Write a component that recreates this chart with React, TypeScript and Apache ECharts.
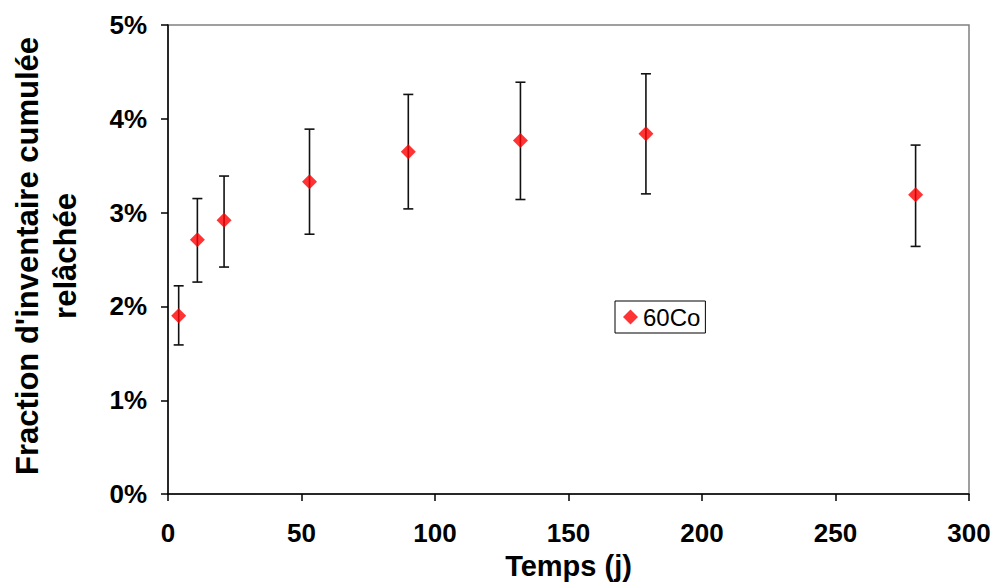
import React, { useEffect, useRef } from "react";
import * as echarts from "echarts";

const times = [4, 11, 21, 53, 90, 132, 179, 280];
const values = [1.9, 2.71, 2.92, 3.33, 3.65, 3.77, 3.84, 3.19];
const lows = [1.59, 2.26, 2.42, 2.77, 3.04, 3.14, 3.2, 2.64];
const highs = [2.22, 3.15, 3.39, 3.89, 4.26, 4.39, 4.48, 3.72];
const seriesName = "60Co";
const xTitle = "Temps (j)";
const yTitleLine1 = "Fraction d'inventaire cumulée";
const yTitleLine2 = "relâchée";

const FONT = "'Liberation Sans', Arial, sans-serif";

export default function App() {
  const ref = useRef<HTMLDivElement>(null);
  useEffect(() => {
    if (!ref.current) return;
    const chart = echarts.init(ref.current, null, { renderer: "svg" });
    const errData = times.map((t, i) => [t, lows[i], highs[i]]);
    chart.setOption({
      animation: false,
      backgroundColor: "#ffffff",
      textStyle: { fontFamily: FONT },
      grid: {
        left: 168,
        right: 26,
        top: 25,
        bottom: 84,
        show: true,
        borderColor: "#808080",
        borderWidth: 1.5,
        backgroundColor: "transparent",
      },
      legend: {
        left: 615,
        top: 301,
        padding: [4, 5, 4, 8],
        borderColor: "#000",
        borderWidth: 1,
        backgroundColor: "#fff",
        borderRadius: 0,
        itemWidth: 15,
        itemHeight: 15,
        itemGap: 0,
        data: [{ name: seriesName, icon: "diamond" }],
        textStyle: { fontFamily: FONT, fontSize: 24, color: "#000", padding: [0, 0, 0, 0] },
      },
      xAxis: {
        type: "value",
        min: 0,
        max: 300,
        interval: 50,
        name: xTitle,
        nameLocation: "middle",
        nameGap: 55,
        nameTextStyle: { fontFamily: FONT, fontSize: 29, fontWeight: "bold", color: "#000" },
        axisLine: { show: true, onZero: false, lineStyle: { color: "#000", width: 1.5 } },
        axisTick: { show: true, length: 7, lineStyle: { color: "#000", width: 1.5 } },
        axisLabel: { fontFamily: FONT, fontSize: 26, fontWeight: "bold", color: "#000", margin: 26 },
        splitLine: { show: false },
      },
      yAxis: {
        type: "value",
        min: 0,
        max: 5,
        interval: 1,
        axisLine: { show: true, onZero: false, lineStyle: { color: "#000", width: 1.5 } },
        axisTick: { show: true, length: 7, lineStyle: { color: "#000", width: 1.5 } },
        axisLabel: {
          fontFamily: FONT,
          fontSize: 26,
          fontWeight: "bold",
          color: "#000",
          margin: 21,
          formatter: "{value}%",
        },
        splitLine: { show: false },
      },
      graphic: [
        {
          type: "text",
          x: 27,
          y: 256,
          rotation: Math.PI / 2,
          style: {
            text: yTitleLine1,
            fontFamily: FONT,
            fontSize: 31,
            fontWeight: "bold",
            fill: "#000",
            align: "center",
            verticalAlign: "middle",
          },
        },
        {
          type: "text",
          x: 65,
          y: 256,
          rotation: Math.PI / 2,
          style: {
            text: yTitleLine2,
            fontFamily: FONT,
            fontSize: 31,
            fontWeight: "bold",
            fill: "#000",
            align: "center",
            verticalAlign: "middle",
          },
        },
      ],
      series: [
        {
          type: "custom",
          name: "err",
          data: errData,
          z: 2,
          renderItem: (params: any, api: any) => {
            const x = api.value(0);
            const lo = api.coord([x, api.value(1)]);
            const hi = api.coord([x, api.value(2)]);
            const half = 5;
            const style = { stroke: "#111", lineWidth: 1.6 };
            return {
              type: "group",
              children: [
                { type: "line", shape: { x1: lo[0], y1: lo[1], x2: hi[0], y2: hi[1] }, style },
                { type: "line", shape: { x1: hi[0] - half, y1: hi[1], x2: hi[0] + half, y2: hi[1] }, style },
                { type: "line", shape: { x1: lo[0] - half, y1: lo[1], x2: lo[0] + half, y2: lo[1] }, style },
              ],
            };
          },
        },
        {
          type: "scatter",
          name: seriesName,
          symbol: "diamond",
          symbolSize: 15,
          z: 3,
          itemStyle: { color: "#ff0000" },
          data: times.map((t, i) => [t, values[i]]),
        },
      ],
    });
    return () => chart.dispose();
  }, []);
  return <div ref={ref} style={{ width: 995, height: 585, position: "absolute", left: 0, top: 0 }} />;
}
